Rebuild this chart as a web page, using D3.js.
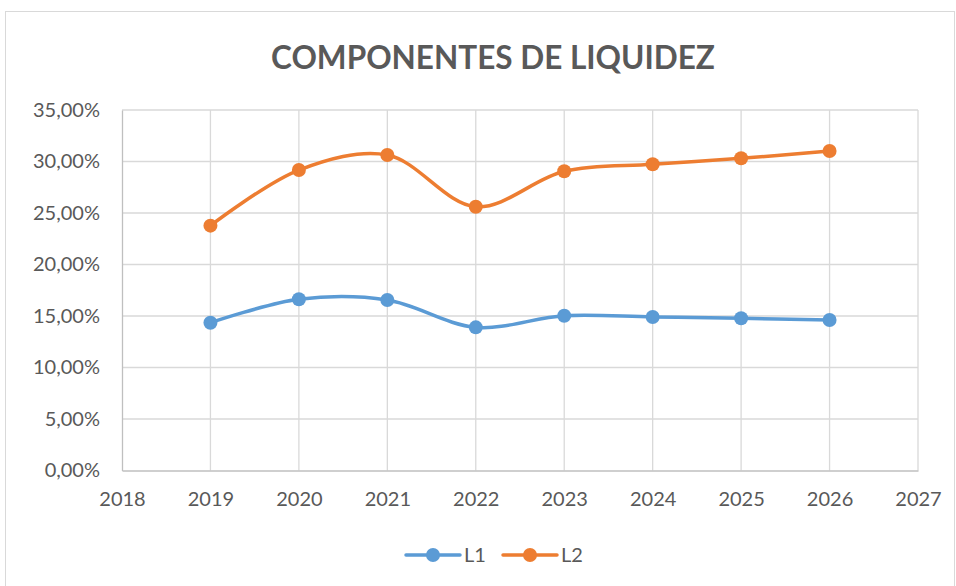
<!DOCTYPE html>
<html>
<head>
<meta charset="utf-8">
<script src="https://cdn.jsdelivr.net/npm/d3@7"></script>
<style>
  body { margin: 0; background: #fff; }
  svg text { font-family: Lato, "Open Sans", sans-serif; fill: #595959; }
</style>
</head>
<body>
<div class="chart"></div>
<script>
// data
const years = [2019, 2020, 2021, 2022, 2023, 2024, 2025, 2026];
const l1 = [14.35, 16.62, 16.55, 13.90, 15.03, 14.90, 14.78, 14.61];
const l2 = [23.77, 29.17, 30.63, 25.61, 29.05, 29.73, 30.31, 31.02];
const xTicks = [2018, 2019, 2020, 2021, 2022, 2023, 2024, 2025, 2026, 2027];
const yTicks = [0, 5, 10, 15, 20, 25, 30, 35];

const series = [
  { name: "L1", values: l1, color: "#5B9BD5" },
  { name: "L2", values: l2, color: "#ED7D31" }
];

let width = 956;
let height = 586;
let margin = { left: 122, right: 956 - 918, top: 110, bottom: 586 - 470.5 };

let svg = d3.select(".chart").append("svg")
  .attr("width", width)
  .attr("height", height);

// outer chart border
svg.append("rect")
  .attr("x", 5.5).attr("y", 11.5)
  .attr("width", 949).attr("height", 600)
  .attr("fill", "none")
  .attr("stroke", "#D9D9D9");

let x = d3.scaleLinear()
  .domain([2018, 2027])
  .range([margin.left, width - margin.right]);

let y = d3.scaleLinear()
  .domain([0, 35])
  .range([height - margin.bottom, margin.top]);

// gridlines
svg.append("g").selectAll("line.h")
  .data(yTicks.slice(1))
  .join("line")
  .attr("x1", x(2018)).attr("x2", x(2027))
  .attr("y1", d => y(d)).attr("y2", d => y(d))
  .attr("stroke", "#D9D9D9").attr("stroke-width", 1.3);

svg.append("g").selectAll("line.v")
  .data(xTicks.slice(1))
  .join("line")
  .attr("x1", d => x(d)).attr("x2", d => x(d))
  .attr("y1", y(0)).attr("y2", y(35))
  .attr("stroke", "#D9D9D9").attr("stroke-width", 1.3);

// axes
let yAxis = svg.append("g")
  .attr("transform", "translate(" + x(2018) + ",0)")
  .call(d3.axisLeft(y).tickValues(yTicks).tickSize(0).tickPadding(22)
    .tickFormat(d => d.toFixed(2).replace(".", ",") + "%"));
yAxis.select(".domain").attr("stroke", "#BFBFBF").attr("stroke-width", 1.3);
yAxis.selectAll("text").style("font-size", "20px");

let xAxis = svg.append("g")
  .attr("transform", "translate(0," + y(0) + ")")
  .call(d3.axisBottom(x).tickValues(xTicks).tickSize(0).tickPadding(21)
    .tickFormat(d3.format("d")));
xAxis.select(".domain").attr("stroke", "#BFBFBF").attr("stroke-width", 1.3);
xAxis.selectAll("text").style("font-size", "20px");

// title
svg.append("text")
  .attr("x", 493).attr("y", 69)
  .attr("text-anchor", "middle")
  .style("font-size", "31.5px")
  .style("font-weight", "bold")
  .text("COMPONENTES DE LIQUIDEZ");

// lines and markers
let line = d3.line()
  .x((d, i) => x(years[i]))
  .y(d => y(d))
  .curve(d3.curveCatmullRom.alpha(0.5));

series.forEach(s => {
  svg.append("path")
    .datum(s.values)
    .attr("d", line)
    .attr("fill", "none")
    .attr("stroke", s.color)
    .attr("stroke-width", 3.5)
    .attr("stroke-linecap", "round");

  svg.append("g").selectAll("circle")
    .data(s.values)
    .join("circle")
    .attr("cx", (d, i) => x(years[i]))
    .attr("cy", d => y(d))
    .attr("r", 7)
    .attr("fill", s.color);
});

// legend
let legend = svg.append("g")
  .selectAll("g")
  .data(series)
  .join("g")
  .attr("transform", (d, i) => "translate(" + (406 + i * 97) + ",555)");

legend.append("line")
  .attr("x1", 0).attr("x2", 54)
  .attr("stroke", d => d.color)
  .attr("stroke-width", 3.5)
  .attr("stroke-linecap", "round");
legend.append("circle")
  .attr("cx", 27).attr("r", 7)
  .attr("fill", d => d.color);
legend.append("text")
  .attr("x", 58).attr("y", 7)
  .style("font-size", "20px")
  .text(d => d.name);
</script>
</body>
</html>
